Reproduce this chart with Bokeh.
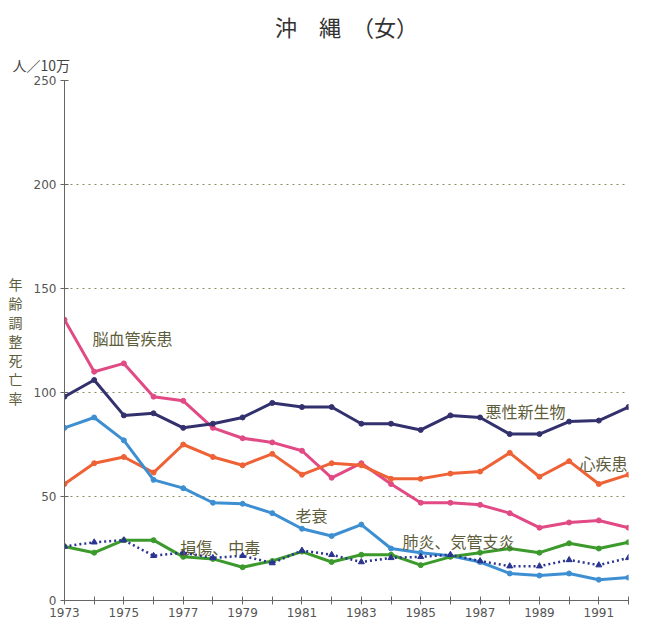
from bokeh.plotting import figure
from bokeh.models import Range1d, FixedTicker, Label, Title
from bokeh.embed import file_html
from bokeh.resources import INLINE

years = list(range(1973, 1993))
cerebro = [135, 110, 114, 98, 96, 83, 78, 76, 72, 59, 66, 56, 47, 47, 46, 42, 35, 37.5, 38.5, 35]
cancer = [98, 106, 89, 90, 83, 85, 88, 95, 93, 93, 85, 85, 82, 89, 88, 80, 80, 86, 86.5, 93]
heart = [56, 66, 69, 61.5, 75, 69, 65, 70.5, 60.5, 66, 65, 58.5, 58.5, 61, 62, 71, 59.5, 67, 56, 60.5]
senility = [83, 88, 77, 58, 54, 47, 46.5, 42, 34.5, 31, 36.5, 25, 23, 21.5, 18.5, 13, 12, 13, 10, 11]
pneumonia = [26, 23, 29, 29, 21, 20, 16, 19, 23.5, 18.5, 22, 22, 17, 21, 23, 25, 23, 27.5, 25, 28]
injury = [26, 28, 29, 21.5, 23, 20.5, 21.5, 18, 24, 22, 18.5, 20.5, 21, 22, 19, 16.5, 16.5, 19.5, 17, 20.5]

series_names = ["脳血管疾患", "悪性新生物", "心疾患", "老衰", "損傷、中毒", "肺炎、気管支炎"]
x_labels = {y: (str(y) if y % 2 == 1 else "") for y in years}

JP = "Noto Sans CJK JP"
LBL = "#5e5e3c"

p = figure(width=640, height=626, output_backend="svg", toolbar_location=None,
           x_range=Range1d(1973, 1992), y_range=Range1d(0, 250),
           min_border_left=64, min_border_right=12, min_border_top=80, min_border_bottom=26)
p.outline_line_color = None
p.background_fill_color = "white"
p.border_fill_color = "white"

# main title (outermost)
p.title.text = "沖　縄　（女）"
p.title.align = "center"
p.title.offset = -24
p.title.text_font = JP
p.title.text_font_size = "22px"
p.title.text_font_style = "normal"
p.title.text_color = "#333333"

# unit label (closest to the frame)
unit_title = Title(text="人／10万", align="left", offset=-52, text_font=JP,
                   text_font_size="14px", text_font_style="normal", text_color="#444444",
                   standoff=12)
p.add_layout(unit_title, "above")

p.xgrid.visible = False
p.ygrid.ticker = FixedTicker(ticks=[50, 100, 150, 200, 250])
p.ygrid.grid_line_color = "#8c8c5a"
p.ygrid.grid_line_dash = "2 4"
p.ygrid.grid_line_width = 1.2

p.xaxis.ticker = FixedTicker(ticks=years)
p.xaxis.major_label_overrides = x_labels
p.xaxis.minor_tick_line_color = None
p.xaxis.major_tick_in = 4
p.xaxis.major_tick_out = 4
p.xaxis.major_label_standoff = 3
p.xaxis.axis_line_color = "#666666"
p.xaxis.major_tick_line_color = "#666666"
p.xaxis.major_label_text_font = "DejaVu Sans"
p.xaxis.major_label_text_font_size = "12px"
p.xaxis.major_label_text_color = "#555555"

p.yaxis.ticker = FixedTicker(ticks=[0, 50, 100, 150, 200, 250])
p.yaxis.minor_tick_line_color = None
p.yaxis.major_tick_in = 4
p.yaxis.major_tick_out = 4
p.yaxis.major_label_standoff = 4
p.yaxis.axis_line_color = "#666666"
p.yaxis.major_tick_line_color = "#666666"
p.yaxis.major_label_text_font = "DejaVu Sans"
p.yaxis.major_label_text_font_size = "12px"
p.yaxis.major_label_text_color = "#555555"
p.yaxis.axis_label = "\n".join("年齢調整死亡率")
p.yaxis.axis_label_orientation = "horizontal"
p.yaxis.axis_label_text_font = JP
p.yaxis.axis_label_text_font_size = "14px"
p.yaxis.axis_label_text_font_style = "normal"
p.yaxis.axis_label_text_color = LBL
p.yaxis.axis_label_text_line_height = 0.95
p.yaxis.axis_label_standoff = 8

styles = [
    (cerebro, "#e14a84"),
    (cancer, "#33306e"),
    (heart, "#ee6236"),
    (senility, "#3d8fd2"),
    (pneumonia, "#3c9a2c"),
]
for vals, col in styles:
    p.line(years, vals, line_color=col, line_width=3)
    p.scatter(years, vals, marker="circle", size=5, fill_color=col, line_color=col)

p.line(years, injury, line_color="#2b3590", line_width=2.5, line_dash="2 3")
p.scatter(years, injury, marker="triangle", size=6, fill_color="#2b3590", line_color="#2b3590")

# series labels
label_pos = [
    (1973.94, 126, "脳血管疾患"),
    (1987.18, 91.3, "悪性新生物"),
    (1990.35, 65.9, "心疾患"),
    (1980.78, 40.9, "老衰"),
    (1976.9, 25.5, "損傷、中毒"),
    (1984.39, 28.4, "肺炎、気管支炎"),
]
for x, y, t in label_pos:
    p.add_layout(Label(x=x, y=y, text=t, text_font=JP, text_font_size="16px",
                       text_color=LBL, text_baseline="middle", text_align="left"))

open("out.html", "w").write(file_html(p, INLINE))
